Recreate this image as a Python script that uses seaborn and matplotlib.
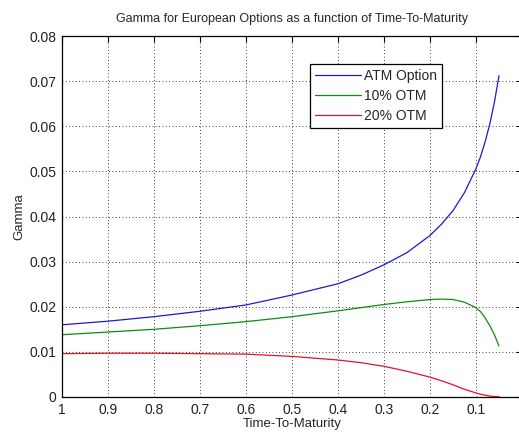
import matplotlib
matplotlib.use("Agg")
import matplotlib.pyplot as plt
import seaborn as sns
import pandas as pd

# Data
ttm = [1.0, 0.9, 0.8, 0.7, 0.6, 0.5, 0.4, 0.35, 0.3, 0.25, 0.2, 0.175, 0.15,
       0.125, 0.1, 0.09, 0.08, 0.07, 0.06, 0.05]
atm = [0.0160, 0.0168, 0.0178, 0.0190, 0.0204, 0.0226, 0.0251, 0.0270, 0.0293,
       0.0320, 0.0358, 0.0383, 0.0413, 0.0453, 0.0506, 0.0533, 0.0566, 0.0605,
       0.0653, 0.0712]
otm10 = [0.0138, 0.0144, 0.0150, 0.0158, 0.0167, 0.0178, 0.0191, 0.0198, 0.0205,
         0.0211, 0.0216, 0.0217, 0.0216, 0.0210, 0.0198, 0.0189, 0.0175, 0.0158,
         0.0138, 0.0113]
otm20 = [0.0096, 0.0097, 0.0097, 0.0096, 0.0095, 0.0090, 0.0082, 0.0076, 0.0068,
         0.0057, 0.0044, 0.0036, 0.0027, 0.0017, 0.0009, 0.0006, 0.0004, 0.0002,
         0.0001, 0.0001]
series_names = ["ATM Option", "10% OTM", "20% OTM"]
xticks = [1, 0.9, 0.8, 0.7, 0.6, 0.5, 0.4, 0.3, 0.2, 0.1]
xticklabels = ["1", "0.9", "0.8", "0.7", "0.6", "0.5", "0.4", "0.3", "0.2", "0.1"]
yticks = [0, 0.01, 0.02, 0.03, 0.04, 0.05, 0.06, 0.07, 0.08]
yticklabels = ["0", "0.01", "0.02", "0.03", "0.04", "0.05", "0.06", "0.07", "0.08"]

rows = []
for name, vals in zip(series_names, [atm, otm10, otm20]):
    for t, v in zip(ttm, vals):
        rows.append({"T": t, "Gamma": v, "Series": name})
df = pd.DataFrame(rows)

sns.set_style("white")
plt.rcParams["font.family"] = ["Liberation Sans", "DejaVu Sans"]

fig = plt.figure(figsize=(5.19, 4.33), dpi=100)
ax = fig.add_axes([62 / 519, 36 / 433, 460 / 519, 361 / 433])

palette = {"ATM Option": "#1a1ad0", "10% OTM": "#128a12", "20% OTM": "#e0142a"}
sns.lineplot(data=df, x="T", y="Gamma", hue="Series", palette=palette,
             linewidth=0.9, ax=ax, estimator=None, sort=False)

ax.set_xlim(1, 0)
ax.set_ylim(0, 0.08)
ax.set_xticks(xticks)
ax.set_xticklabels(xticklabels)
ax.set_yticks(yticks)
ax.set_yticklabels(yticklabels)
ax.tick_params(direction="in", length=4, width=0.8, top=True, right=True,
               labelsize=10, labelcolor="#222222", colors="black", pad=4)
for s in ax.spines.values():
    s.set_color("black")
    s.set_linewidth(0.9)
ax.grid(True, color="black", linestyle=(0, (1, 3)), linewidth=0.6)

ax.set_title("Gamma for European Options as a function of Time-To-Maturity",
             fontsize=9, pad=10)
ax.set_xlabel("Time-To-Maturity", fontsize=9.5, labelpad=1)
ax.set_ylabel("Gamma", fontsize=9.5, labelpad=3)

leg = ax.legend(loc="upper left", bbox_to_anchor=(0.539, 0.922), fontsize=10,
                frameon=True, fancybox=False, framealpha=1, edgecolor="black",
                handlelength=3.3, borderpad=0.35, labelspacing=0.42,
                handletextpad=0.25, borderaxespad=0)
leg.get_frame().set_linewidth(0.9)

fig.savefig("out.png", dpi=100)
